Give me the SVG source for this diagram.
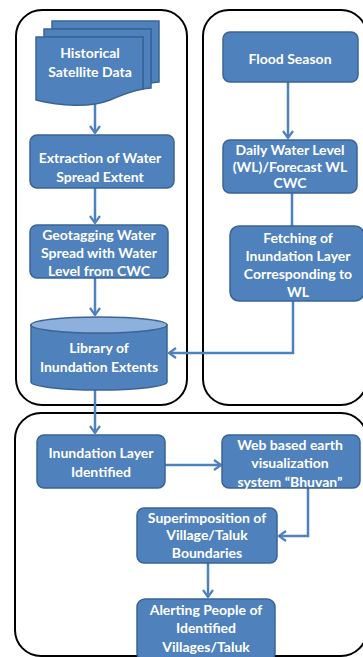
<svg xmlns="http://www.w3.org/2000/svg" width="363" height="657" viewBox="0 0 363 657">
<style>
.panel{fill:none;stroke:#000;stroke-width:2}
.box{fill:#4F81BD;stroke:#3A6494;stroke-width:1.5}
.top{fill:#8DB0DC;stroke:#3A6494;stroke-width:1.5}
.t{font-family:Lato,"Liberation Sans",sans-serif;font-weight:bold;font-size:14px;fill:#fff;text-anchor:middle}
.c{fill:none;stroke:#4F81BD;stroke-width:2.5}
</style>
<defs>
<marker id="ah" markerUnits="userSpaceOnUse" viewBox="0 0 10 12" refX="9" refY="6" markerWidth="10" markerHeight="12" orient="auto">
<path d="M2,1 L9,6 L2,11" fill="none" stroke="#4F81BD" stroke-width="2.2"/>
</marker>
</defs>
<rect class="panel" x="16" y="10" width="171" height="395" rx="26"/>
<rect class="panel" x="203" y="10" width="164" height="395" rx="26"/>
<rect class="panel" x="15" y="413" width="352" height="243" rx="26"/>
<g id="connectors">
<path class="c" d="M95,102 V133" marker-end="url(#ah)"/>
<path class="c" d="M95,188 V223" marker-end="url(#ah)"/>
<path class="c" d="M95,278 V315" marker-end="url(#ah)"/>
<path class="c" d="M95,390 V433" marker-end="url(#ah)"/>
<path class="c" d="M288,82 V138" marker-end="url(#ah)"/>
<path class="c" d="M292,193 V226"/>
<path class="c" d="M293,301 V353 H169" marker-end="url(#ah)"/>
<path class="c" d="M165,465 H221" marker-end="url(#ah)"/>
<path class="c" d="M308,488 V536 H279" marker-end="url(#ah)"/>
<path class="c" d="M208,563 V597" marker-end="url(#ah)"/>
</g>
<g id="historical">
<path class="box" d="M52,21 H159 V82 C155,82 152,83 151,83 V29 H52 Z"/>
<path class="box" d="M44,29 H151 V88 C148,88 145,89 143,89 V37 H44 Z"/>
<path class="box" d="M36,37 H143 V89 C130,91 120,96 110,100 C90,108 60,106 36,100 Z"/>
<text class="t" x="90" y="58">Historical</text>
<text class="t" x="90" y="77">Satellite Data</text>
</g>
<g id="extraction">
<rect class="box" x="30" y="135" width="144" height="53" rx="7"/>
<text class="t" x="100" y="163">Extraction of Water</text>
<text class="t" x="100" y="182">Spread Extent</text>
</g>
<g id="geotagging">
<rect class="box" x="30" y="225" width="138" height="53" rx="7"/>
<text class="t" x="99" y="240">Geotagging Water</text>
<text class="t" x="99" y="258">Spread with Water</text>
<text class="t" x="99" y="276">Level from CWC</text>
</g>
<g id="library">
<path class="box" d="M31,325 V382 A68,8 0 0 0 167,382 V325 Z"/>
<ellipse class="top" cx="99" cy="325" rx="68" ry="8"/>
<text class="t" x="99" y="353">Library of</text>
<text class="t" x="99" y="372">Inundation Extents</text>
</g>
<g id="flood">
<rect class="box" x="223" y="32" width="135" height="50" rx="7"/>
<text class="t" x="290" y="64">Flood Season</text>
</g>
<g id="daily">
<rect class="box" x="223" y="140" width="134" height="53" rx="7"/>
<text class="t" x="290" y="155">Daily Water Level</text>
<text class="t" x="290" y="172">(WL)/Forecast WL</text>
<text class="t" x="290" y="188">CWC</text>
</g>
<g id="fetching">
<rect class="box" x="230" y="226" width="134" height="75" rx="9"/>
<text class="t" x="298" y="243">Fetching of</text>
<text class="t" x="298" y="261">Inundation Layer</text>
<text class="t" x="298" y="279">Corresponding to</text>
<text class="t" x="298" y="297">WL</text>
</g>
<g id="identified">
<rect class="box" x="37" y="435" width="128" height="53" rx="7"/>
<text class="t" x="101" y="458">Inundation Layer</text>
<text class="t" x="101" y="477">Identified</text>
</g>
<g id="web">
<rect class="box" x="222" y="435" width="138" height="53" rx="7"/>
<text class="t" x="290" y="450">Web based earth</text>
<text class="t" x="290" y="468">visualization</text>
<text class="t" x="290" y="486.5">system “Bhuvan”</text>
</g>
<g id="superimposition">
<rect class="box" x="137" y="508" width="140" height="55" rx="7"/>
<text class="t" x="207" y="523">Superimposition of</text>
<text class="t" x="207" y="540">Village/Taluk</text>
<text class="t" x="207" y="558">Boundaries</text>
</g>
<g id="alerting">
<rect class="box" x="137" y="599" width="138" height="62" rx="8"/>
<text class="t" x="206" y="615">Alerting People of</text>
<text class="t" x="206" y="633">Identified</text>
<text class="t" x="206" y="651.5">Villages/Taluk</text>
</g>
</svg>
